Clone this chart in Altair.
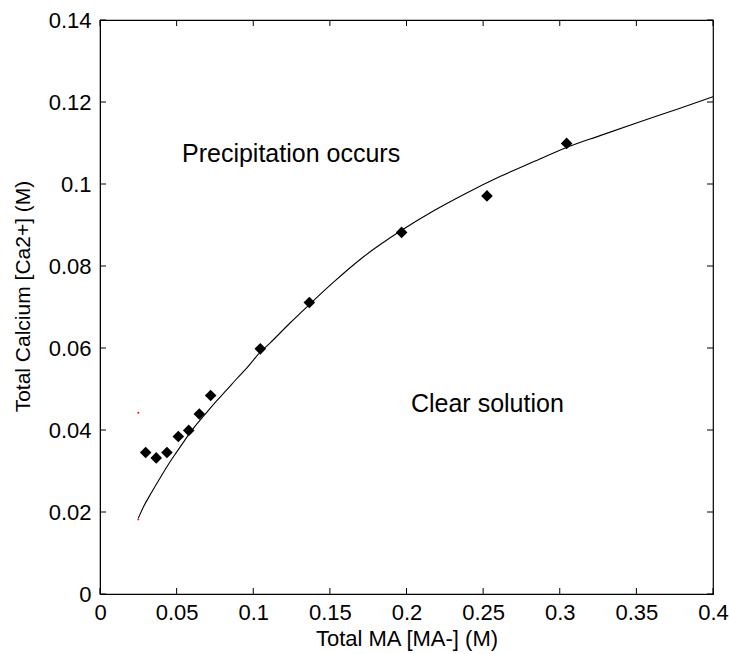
import altair as alt
import pandas as pd

# Measured points (Total MA vs Total Calcium)
pts_x = [0.0298, 0.0367, 0.0437, 0.0511, 0.0579, 0.0648, 0.0722, 0.1046, 0.1366, 0.1968, 0.2525, 0.3045]
pts_y = [0.0345, 0.0332, 0.0345, 0.0384, 0.0399, 0.0439, 0.0484, 0.0598, 0.0711, 0.0882, 0.0971, 0.1099]

# Fitted curve
curve_x = [0.0250, 0.0283, 0.0337, 0.0392, 0.0446, 0.0500, 0.0555, 0.0609, 0.0685, 0.0761,
           0.0827, 0.0892, 0.0957, 0.1046, 0.1109, 0.1240, 0.1366, 0.1522, 0.1718, 0.1968,
           0.2175, 0.2393, 0.2610, 0.2828, 0.3045, 0.3263, 0.3524, 0.3785, 0.4000]
curve_y = [0.0185, 0.0212, 0.0248, 0.0283, 0.0316, 0.0346, 0.0376, 0.0404, 0.0438, 0.0471,
           0.0498, 0.0525, 0.0551, 0.0590, 0.0612, 0.0661, 0.0706, 0.0760, 0.0822, 0.0887,
           0.0934, 0.0978, 0.1018, 0.1054, 0.1089, 0.1118, 0.1152, 0.1185, 0.1213]

# small red marks
red_x = [0.025, 0.025]
red_y = [0.0442, 0.0182]

# annotations
ann_text = ["Precipitation occurs", "Clear solution"]
ann_x = [0.0535, 0.2029]
ann_y = [0.1054, 0.0445]

x_ticks = [0, 0.05, 0.1, 0.15, 0.2, 0.25, 0.3, 0.35, 0.4]
y_ticks = [0, 0.02, 0.04, 0.06, 0.08, 0.1, 0.12, 0.14]

W, H = 613, 574
FONT = "Liberation Sans"
FS = 22

xs = alt.Scale(domain=[0, 0.4], nice=False, zero=False)
ys = alt.Scale(domain=[0, 0.14], nice=False, zero=False)

curve_df = pd.DataFrame({"x": curve_x, "y": curve_y})
pts_df = pd.DataFrame({"x": pts_x, "y": pts_y})
red_df = pd.DataFrame({"x": red_x, "y": red_y})
ann_df = pd.DataFrame({"x": ann_x, "y": ann_y, "t": ann_text})
xt_df = pd.DataFrame({"x": x_ticks})
yt_df = pd.DataFrame({"y": y_ticks})

line = alt.Chart(curve_df).mark_line(color="black", strokeWidth=1.1, interpolate="monotone").encode(
    x=alt.X("x:Q", scale=xs, axis=alt.Axis(
        values=x_ticks, title="Total MA [MA-] (M)", ticks=False, grid=False,
        labelPadding=8, titlePadding=5, labelFontSize=FS, titleFontSize=FS,
        labelFont=FONT, titleFont=FONT, labelColor="black", titleColor="black",
        titleFontWeight="normal", domainColor="black", labelFlush=False,
        labelExpr="datum.value == 0 ? '0' : format(datum.value, '~g')")),
    y=alt.Y("y:Q", scale=ys, axis=alt.Axis(
        values=y_ticks, title="Total Calcium [Ca2+] (M)", ticks=False, grid=False,
        labelPadding=9, titlePadding=15, titleY=276, labelFontSize=FS, titleFontSize=FS - 1,
        labelFont=FONT, titleFont=FONT, labelColor="black", titleColor="black",
        titleFontWeight="normal", domainColor="black", labelFlush=False,
        labelExpr="datum.value == 0 ? '0' : format(datum.value, '~g')")),
)

points = alt.Chart(pts_df).mark_point(shape="diamond", filled=True, color="black", size=135, opacity=1).encode(
    x=alt.X("x:Q", scale=xs), y=alt.Y("y:Q", scale=ys))

reds = alt.Chart(red_df).mark_point(shape="square", filled=True, color="red", size=3, opacity=1).encode(
    x=alt.X("x:Q", scale=xs), y=alt.Y("y:Q", scale=ys))

texts = alt.Chart(ann_df).mark_text(align="left", baseline="alphabetic", fontSize=25, font=FONT, color="black").encode(
    x=alt.X("x:Q", scale=xs), y=alt.Y("y:Q", scale=ys), text="t:N")

tb = alt.Chart(xt_df).mark_rule(color="black", strokeWidth=1).encode(
    x=alt.X("x:Q", scale=xs), y=alt.value(H), y2=alt.value(H - 6))
tt = alt.Chart(xt_df).mark_rule(color="black", strokeWidth=1).encode(
    x=alt.X("x:Q", scale=xs), y=alt.value(0), y2=alt.value(6))
tl = alt.Chart(yt_df).mark_rule(color="black", strokeWidth=1).encode(
    y=alt.Y("y:Q", scale=ys), x=alt.value(0), x2=alt.value(6))
tr = alt.Chart(yt_df).mark_rule(color="black", strokeWidth=1).encode(
    y=alt.Y("y:Q", scale=ys), x=alt.value(W), x2=alt.value(W - 6))

chart = alt.layer(line, points, reds, texts, tb, tt, tl, tr).properties(
    width=W, height=H,
    autosize=alt.AutoSizeParams(type="none"),
    padding={"left": 100, "top": 20, "right": 16, "bottom": 60},
    background="white",
).configure_view(stroke="black", strokeWidth=1.2)

chart.save("out.html", embed_options={"renderer": "svg", "actions": False})
